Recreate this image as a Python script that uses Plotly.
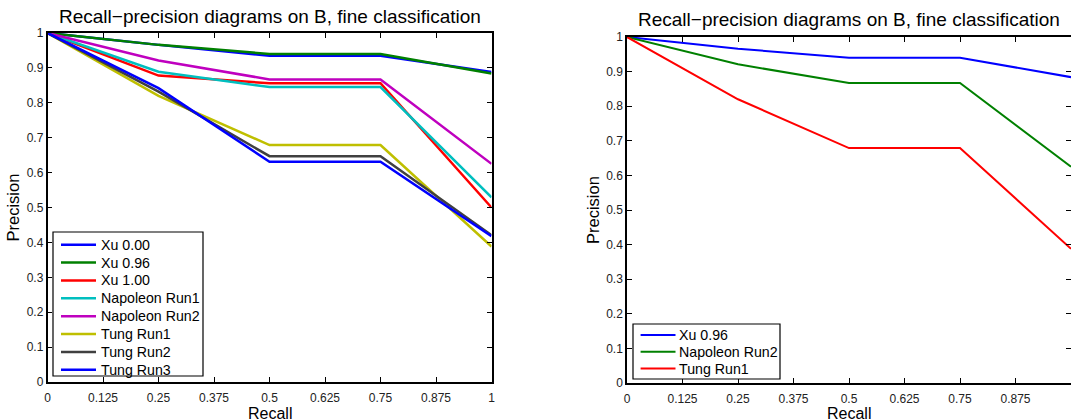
import plotly.graph_objects as go

recall = [0, 0.25, 0.5, 0.75, 1.0]

# Left panel series
xu_000 = [1.0, 0.966, 0.935, 0.935, 0.888]
xu_096 = [1.0, 0.966, 0.940, 0.940, 0.884]
xu_100 = [1.0, 0.878, 0.856, 0.856, 0.500]
napoleon_run1 = [1.0, 0.889, 0.845, 0.845, 0.529]
napoleon_run2 = [1.0, 0.921, 0.867, 0.867, 0.625]
tung_run1 = [1.0, 0.820, 0.679, 0.679, 0.388]
tung_run2 = [1.0, 0.832, 0.647, 0.647, 0.421]
tung_run3 = [1.0, 0.842, 0.631, 0.631, 0.418]

left_names = ["Xu 0.00", "Xu 0.96", "Xu 1.00", "Napoleon Run1", "Napoleon Run2",
              "Tung Run1", "Tung Run2", "Tung Run3"]
left_series = [xu_000, xu_096, xu_100, napoleon_run1, napoleon_run2,
               tung_run1, tung_run2, tung_run3]
left_colors = ["#0000ff", "#008000", "#ff0000", "#00bfbf", "#bf00bf",
               "#bfbf00", "#404040", "#0000ff"]

# Right panel series
right_names = ["Xu 0.96", "Napoleon Run2", "Tung Run1"]
right_series = [xu_096, napoleon_run2, tung_run1]
right_colors = ["#0000ff", "#008000", "#ff0000"]

x_ticks = [0, 0.125, 0.25, 0.375, 0.5, 0.625, 0.75, 0.875, 1]
x_tick_text = ["0", "0.125", "0.25", "0.375", "0.5", "0.625", "0.75", "0.875", "1"]
y_ticks = [0, 0.1, 0.2, 0.3, 0.4, 0.5, 0.6, 0.7, 0.8, 0.9, 1]
y_tick_text = ["0", "0.1", "0.2", "0.3", "0.4", "0.5", "0.6", "0.7", "0.8", "0.9", "1"]

title_text = "Recall\u2212precision diagrams on B, fine classification"

W, H = 1071, 419
FONT = "Liberation Sans, Arial, sans-serif"

fig = go.Figure()
for name, ys, c in zip(left_names, left_series, left_colors):
    fig.add_trace(go.Scatter(x=recall, y=ys, mode="lines", name=name,
                             line=dict(color=c, width=2.5),
                             xaxis="x", yaxis="y", showlegend=False))
for name, ys, c in zip(right_names, right_series, right_colors):
    fig.add_trace(go.Scatter(x=recall, y=ys, mode="lines", name=name,
                             line=dict(color=c, width=2),
                             xaxis="x2", yaxis="y2", showlegend=False))

# pixel geometry
L1, R1, T1, B1 = 47.5, 491.5, 33, 382
L2, R2, T2, B2 = 627, 1071, 37, 383

def px(v):
    return v / W

def py(v):
    return (H - v) / H

axis_common = dict(showgrid=False, zeroline=False, showline=True, linecolor="black",
                   mirror="allticks", ticks="inside", ticklen=5, tickcolor="black",
                   tickfont=dict(family=FONT, size=12, color="#222222"),
                   automargin=False)

fig.update_layout(
    width=W, height=H,
    margin=dict(l=0, r=0, t=0, b=0),
    paper_bgcolor="white", plot_bgcolor="white",
    font=dict(family=FONT, color="black"),
    showlegend=False,
    xaxis=dict(domain=[px(L1), px(R1)], range=[0, 1], tickvals=x_ticks, ticktext=x_tick_text,
               anchor="y", linewidth=1.5, ticklabelstandoff=4, **axis_common),
    yaxis=dict(domain=[py(B1), py(T1)], range=[0, 1], tickvals=y_ticks, ticktext=y_tick_text,
               anchor="x", linewidth=1.5, **axis_common),
    xaxis2=dict(domain=[px(L2), px(R2)], range=[0, 1], tickvals=x_ticks, ticktext=x_tick_text,
                anchor="y2", linewidth=1.5, ticklabelstandoff=4, **axis_common),
    yaxis2=dict(domain=[py(B2), py(T2)], range=[0, 1], tickvals=y_ticks, ticktext=y_tick_text,
                anchor="x2", linewidth=1.5, **axis_common),
)

ann_font_t = dict(family=FONT, size=19, color="black")
ann_font_l = dict(family=FONT, size=16, color="black")
fig.add_annotation(text=title_text, x=px((L1 + R1) / 2), y=py(16), xref="paper", yref="paper",
                   showarrow=False, xanchor="center", yanchor="middle", font=ann_font_t)
fig.add_annotation(text=title_text, x=px((L2 + R2) / 2), y=py(20), xref="paper", yref="paper",
                   showarrow=False, xanchor="center", yanchor="middle", font=ann_font_t)
for cx in [(L1 + R1) / 2, (L2 + R2) / 2]:
    fig.add_annotation(text="Recall", x=px(cx), y=py(413), xref="paper", yref="paper",
                       showarrow=False, xanchor="center", yanchor="middle", font=ann_font_l)
for cx, cy in [(12, (T1 + B1) / 2), (593, (T2 + B2) / 2)]:
    fig.add_annotation(text="Precision", x=px(cx), y=py(cy), xref="paper", yref="paper",
                       showarrow=False, xanchor="center", yanchor="middle", textangle=-90,
                       font=dict(family=FONT, size=16.5, color="black"))

# Legends (MATLAB-style boxes)
def add_legend(box, first_y, step, line_x0, line_x1, text_x, names, colors, lw):
    x0, y0, x1, y1 = box
    fig.add_shape(type="rect", xref="paper", yref="paper",
                  x0=px(x0), x1=px(x1), y0=py(y1), y1=py(y0),
                  line=dict(color="black", width=1.2), fillcolor="white", layer="above")
    for i, (n, c) in enumerate(zip(names, colors)):
        yy = first_y + i * step
        fig.add_shape(type="line", xref="paper", yref="paper",
                      x0=px(line_x0), x1=px(line_x1), y0=py(yy), y1=py(yy),
                      line=dict(color=c, width=lw), layer="above")
        fig.add_annotation(text=n, x=px(text_x), y=py(yy), xref="paper", yref="paper",
                           showarrow=False, xanchor="left", yanchor="middle",
                           font=dict(family=FONT, size=14.2, color="black"))

add_legend((53, 232, 203, 376), 244.7, 17.87, 61, 96, 99, left_names, left_colors, 2.5)
add_legend((633, 324, 780, 379), 335, 16.75, 640.6, 675.5, 677, right_names, right_colors, 2)

fig.write_html("out.html")
